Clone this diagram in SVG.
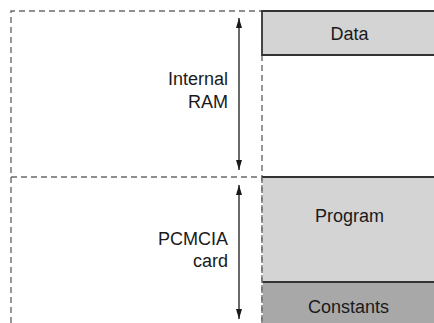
<svg xmlns="http://www.w3.org/2000/svg" width="434" height="323" viewBox="0 0 434 323">
<style>
.dash{fill:none;stroke:#6b6b6b;stroke-width:1.4;stroke-dasharray:6,4}
.solid{fill:none;stroke:#333;stroke-width:1.8}
.lbl{font-family:"Liberation Sans",Arial,sans-serif;font-size:18px;fill:#1a1a1a}
.arr{stroke:#1a1a1a;stroke-width:1.3;fill:none}
</style>
<defs>
<marker id="ah" viewBox="0 0 10 10" refX="10" refY="5" markerWidth="10" markerHeight="10" markerUnits="userSpaceOnUse" orient="auto">
<path d="M0,2 L10,5 L0,8 Z" fill="#1a1a1a"/>
</marker>
</defs>
<rect width="434" height="323" fill="#fff"/>
<g id="internal-ram">
<path class="dash" d="M11,323 V11 H262"/>
<text class="lbl" x="228" y="85" text-anchor="end">Internal</text>
<text class="lbl" x="228" y="108" text-anchor="end">RAM</text>
</g>
<g id="pcmcia-card">
<path class="dash" d="M11,177 H262"/>
<text class="lbl" x="228" y="245" text-anchor="end">PCMCIA</text>
<text class="lbl" x="228" y="267" text-anchor="end">card</text>
</g>
<path class="dash" d="M262,55 V323"/>
<g id="data">
<rect x="262" y="11" width="180" height="44" fill="#d4d4d4"/>
<path class="solid" d="M436,11 H262 V55 H436"/>
<text class="lbl" x="349.5" y="40" text-anchor="middle">Data</text>
</g>
<g id="program">
<rect x="262.7" y="177" width="180" height="105" fill="#d4d4d4"/>
<path class="solid" d="M262,177 H436"/>
<text class="lbl" x="349.5" y="222" text-anchor="middle">Program</text>
</g>
<g id="constants">
<rect x="262.7" y="282" width="180" height="45" fill="#a8a8a8"/>
<path class="solid" d="M262,282 H436"/>
<text class="lbl" x="348.5" y="313" text-anchor="middle">Constants</text>
</g>
<path class="dash" d="M262,177 V323"/>
<g id="connectors">
<line class="arr" x1="239" y1="100" x2="239" y2="18" marker-end="url(#ah)"/>
<line class="arr" x1="239" y1="100" x2="239" y2="170" marker-end="url(#ah)"/>
<line class="arr" x1="239" y1="250" x2="239" y2="185" marker-end="url(#ah)"/>
<line class="arr" x1="239" y1="250" x2="239" y2="319" marker-end="url(#ah)"/>
</g>
</svg>
